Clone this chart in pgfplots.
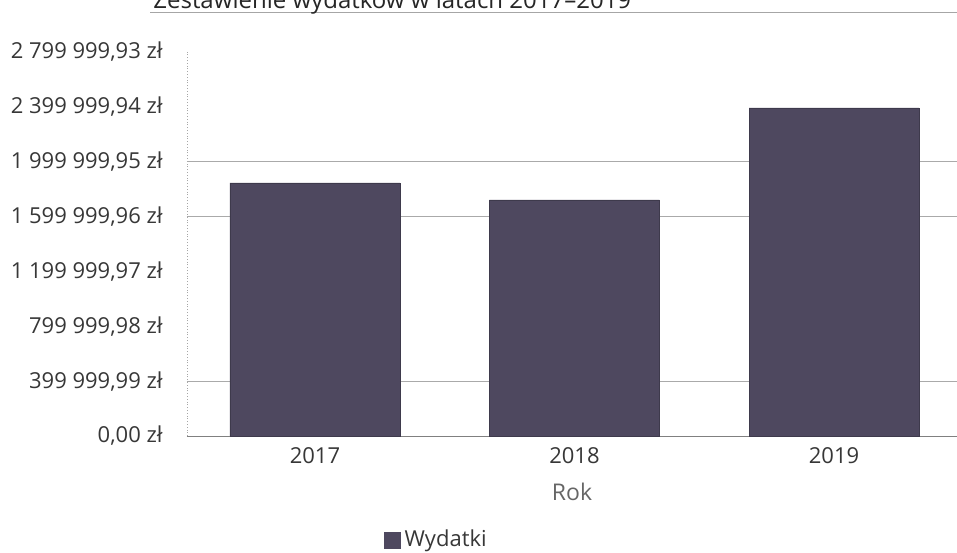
\documentclass[border=0pt]{standalone}
\usepackage{fontspec}
\setmainfont{Open Sans}
\usepackage{pgfplots}
\pgfplotsset{compat=1.18}
\definecolor{barcol}{RGB}{78,72,95}
\definecolor{gridc}{RGB}{170,170,170}
\definecolor{tickc}{RGB}{55,55,55}
\begin{document}
\begin{tikzpicture}
\begin{axis}[
  scale only axis, width=385pt, height=192pt,
  xmin=-0.493, xmax=2.474, ymin=0, ymax=2799999.93,
  scaled y ticks=false,
  ybar, bar width=0.655, bar shift=0pt,
  xtick={0,1,2}, xticklabels={2017,2018,2019},
  ytick={0,399999.99,799999.98,1199999.97,1599999.96,1999999.95,2399999.94,2799999.93},
  yticklabels={{0,00 zł},{399 999,99 zł},{799 999,98 zł},{1 199 999,97 zł},{1 599 999,96 zł},{1 999 999,95 zł},{2 399 999,94 zł},{2 799 999,93 zł}},
  major tick length=0pt,
  axis x line*=bottom, axis y line*=left,
  x axis line style={draw=gray, -},
  y axis line style={draw=gray!70, densely dotted, -},
  extra y ticks={399999.99,1599999.96,1999999.95},
  extra y tick labels={},
  extra y tick style={grid=major, major grid style={gridc, line width=0.6pt}},
  yticklabel style={anchor=east, inner sep=0pt, xshift=-12pt, font=\fontsize{11}{13}\selectfont, text=tickc},
  xticklabel style={anchor=base, inner sep=0pt, yshift=-13.5pt, font=\fontsize{11}{13}\selectfont, text=tickc},
  xlabel={Rok},
  xlabel style={at={(axis description cs:0.5,0)}, anchor=base, yshift=-32pt, inner sep=0pt, font=\fontsize{11.5}{13}\selectfont, text=black!60},
  legend style={at={(axis description cs:0.325,-0.271)}, anchor=center, draw=none, fill=none, font=\fontsize{11}{13}\selectfont, text=tickc, inner sep=0pt},
  legend image code/.code={\fill[barcol] (-1.5pt,-4pt) rectangle (6.5pt,4pt);},
  clip=false,
]
\addplot[fill=barcol, draw=barcol!80!black] coordinates {(0,1845000) (1,1721000) (2,2392000)};
\addlegendentry{Wydatki}
\end{axis}
\draw[gray!70, line width=0.5pt] (-18.5pt,211.5pt) -- (385pt,211.5pt);
\node[anchor=base west, inner sep=0pt, font=\fontsize{12}{14}\selectfont, text=black!85] at (-17pt,213.5pt) {Zestawienie wydatków w latach 2017–2019};
\pgfresetboundingbox
\useasboundingbox (-93.5pt,-58pt) rectangle (385pt,218pt);
\end{tikzpicture}
\end{document}
